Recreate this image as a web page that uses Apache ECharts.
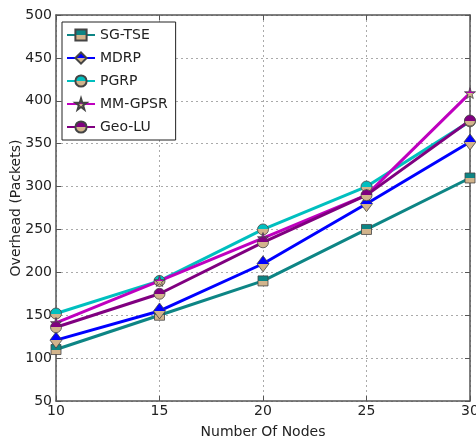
<!DOCTYPE html>
<html>
<head>
<meta charset="utf-8">
<script src="https://cdn.jsdelivr.net/npm/echarts@6/dist/echarts.min.js"></script>
<style>
  html, body { margin: 0; padding: 0; background: #fff; }
  #main { width: 476px; height: 443px; }
</style>
</head>
<body>
<div id="main"></div>
<script>
// number of nodes on the x axis
var nodes = [10, 15, 20, 25, 30];
// overhead values (packets) per protocol
var sgTse = [110, 150, 190, 250, 310];
var mdrp = [121, 155, 210, 280, 352];
var pgrp = [152, 190, 250, 300, 376];
var mmGpsr = [141, 190, 240, 290, 409];
var geoLu = [136, 175, 235, 290, 377];

var tan = '#d2b48c';

// marker half filled: upper half in line colour, lower half tan
function halfFill(c) {
    return new echarts.graphic.LinearGradient(0, 0, 0, 1, [
        { offset: 0, color: c },
        { offset: 0.5, color: c },
        { offset: 0.5, color: tan },
        { offset: 1, color: tan }
    ]);
}

function makeSeries(name, data, color, symbol, size) {
    return {
        name: name,
        type: 'line',
        data: nodes.map(function (x, i) { return [x, data[i]]; }),
        symbol: symbol,
        symbolSize: size,
        showAllSymbol: true,
        clip: false,
        lineStyle: { color: color, width: 3 },
        itemStyle: { color: halfFill(color), borderColor: '#444', borderWidth: 0.8 },
        z: 3
    };
}

var chart = echarts.init(document.getElementById('main'));
var font = 'DejaVu Sans';

var option = {
    animation: false,
    textStyle: { fontFamily: font },
    grid: { left: 56, right: 6, top: 15, bottom: 42, outerBoundsMode: 'none', containLabel: false },
    legend: {
        orient: 'vertical',
        left: 62, top: 22,
        padding: [6, 8, 6, 4],
        borderColor: '#222', borderWidth: 1,
        backgroundColor: '#fff',
        itemWidth: 28, itemHeight: 14, itemGap: 9,
        textStyle: { fontFamily: font, fontSize: 14, color: '#222' },
        data: ['SG-TSE', 'MDRP', 'PGRP', 'MM-GPSR', 'Geo-LU']
    },
    xAxis: [{
        type: 'value', min: 10, max: 30, interval: 5,
        name: 'Number Of Nodes', nameLocation: 'middle', nameGap: 24, nameMoveOverlap: false,
        nameTextStyle: { fontFamily: font, fontSize: 14, color: '#222' },
        axisLine: { lineStyle: { color: '#555', width: 1.5 } },
        axisTick: { inside: true, length: 5, lineStyle: { color: '#555' } },
        axisLabel: { fontFamily: font, fontSize: 14, color: '#222', margin: 3 },
        splitLine: { show: true, lineStyle: { color: '#aaa', type: [2, 3], width: 1 } }
    }, {
        type: 'value', min: 10, max: 30, interval: 5, position: 'top',
        axisLine: { lineStyle: { color: '#555', width: 1.5 } },
        axisTick: { inside: true, length: 5, lineStyle: { color: '#555' } },
        axisLabel: { show: false },
        splitLine: { show: false }
    }],
    yAxis: [{
        type: 'value', min: 50, max: 500, interval: 50,
        name: 'Overhead (Packets)', nameLocation: 'middle', nameGap: 33, nameMoveOverlap: false,
        nameTextStyle: { fontFamily: font, fontSize: 14, color: '#222' },
        axisLine: { show: true, lineStyle: { color: '#555', width: 1.5 } },
        axisTick: { show: true, inside: true, length: 5, lineStyle: { color: '#555' } },
        axisLabel: { fontFamily: font, fontSize: 14, color: '#222', margin: 4 },
        splitLine: { show: true, lineStyle: { color: '#aaa', type: [2, 3], width: 1 } }
    }, {
        type: 'value', min: 50, max: 500, interval: 50, position: 'right',
        axisLine: { show: true, lineStyle: { color: '#555', width: 1.5 } },
        axisTick: { show: true, inside: true, length: 5, lineStyle: { color: '#555' } },
        axisLabel: { show: false },
        splitLine: { show: false }
    }],
    series: [
        makeSeries('SG-TSE', sgTse, '#0d8585', 'rect', 10),
        makeSeries('MDRP', mdrp, '#0000ff', 'diamond', [12, 16]),
        makeSeries('PGRP', pgrp, '#00bfbf', 'circle', 11),
        makeSeries('MM-GPSR', mmGpsr, '#bf00bf', 'path://M50,0 L61,35 L98,35 L68,57 L79,91 L50,70 L21,91 L32,57 L2,35 L39,35 Z', 11),
        makeSeries('Geo-LU', geoLu, '#800080', 'circle', 11)
    ]
};

chart.setOption(option);
</script>
</body>
</html>
